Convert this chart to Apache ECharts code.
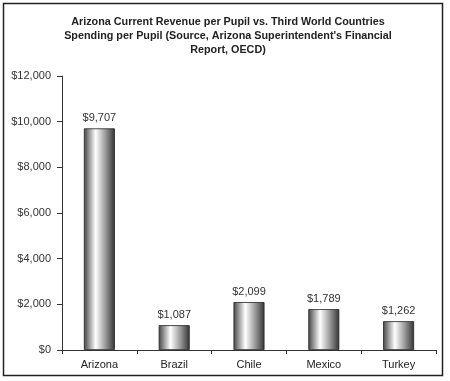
<!DOCTYPE html>
<html><head><meta charset="utf-8">
<script src="https://cdn.jsdelivr.net/npm/echarts@6/dist/echarts.min.js"></script>
<style>html,body{margin:0;padding:0;background:#fff}#c{width:450px;height:381px}</style>
</head><body><div id="c"></div>
<script>
var categories = ['Arizona', 'Brazil', 'Chile', 'Mexico', 'Turkey'];
var values = [9707, 1087, 2099, 1789, 1262];
var yTicks = [0, 2000, 4000, 6000, 8000, 10000, 12000];

function money(v) { return '$' + Number(v).toLocaleString('en-US'); }

var chart = echarts.init(document.getElementById('c'), null, {renderer: 'canvas'});
chart.setOption({
  animation: false,
  backgroundColor: '#fff',
  title: {
    text: "Arizona Current Revenue per Pupil vs. Third World Countries\nSpending per Pupil (Source, Arizona Superintendent's Financial\nReport, OECD)",
    left: 223, top: 10, textAlign: 'center',
    textStyle: {fontFamily: 'Liberation Sans, Arial', fontSize: 10.8, fontWeight: 'bold', color: '#222', lineHeight: 14}
  },
  graphic: [{
    type: 'rect', shape: {x: 3.5, y: 3.5, width: 439, height: 372},
    style: {fill: 'none', stroke: '#222', lineWidth: 1.5}, silent: true
  }],
  grid: {left: 62, right: 14, top: 76, bottom: 31, containLabel: false},
  xAxis: {
    type: 'category', data: categories,
    axisLine: {lineStyle: {color: '#333', width: 1}},
    axisTick: {show: true, alignWithLabel: false, length: 4, lineStyle: {color: '#333'}},
    axisLabel: {color: '#222', fontFamily: 'Liberation Sans, Arial', fontSize: 11, margin: 9}
  },
  yAxis: {
    type: 'value', min: 0, max: 12000, interval: 2000,
    axisLine: {show: true, lineStyle: {color: '#333', width: 1}},
    axisTick: {show: true, length: 5, lineStyle: {color: '#333'}},
    splitLine: {show: false},
    axisLabel: {color: '#333', fontFamily: 'Liberation Sans, Arial', fontSize: 11, margin: 11,
      formatter: function (v) { return yTicks.indexOf(v) >= 0 ? money(v) : ''; }}
  },
  series: [{
    type: 'bar', data: values, barWidth: 31,
    itemStyle: {
      borderColor: '#222', borderWidth: 0.8,
      color: new echarts.graphic.LinearGradient(0, 0, 1, 0, [
        {offset: 0, color: '#444444'},
        {offset: 0.38, color: '#ffffff'},
        {offset: 0.7, color: '#999999'},
        {offset: 1, color: '#333333'}
      ])
    },
    label: {show: true, position: 'top', distance: 5, color: '#333',
      fontFamily: 'Liberation Sans, Arial', fontSize: 11,
      formatter: function (p) { return money(p.value); }}
  }]
});
</script></body></html>
